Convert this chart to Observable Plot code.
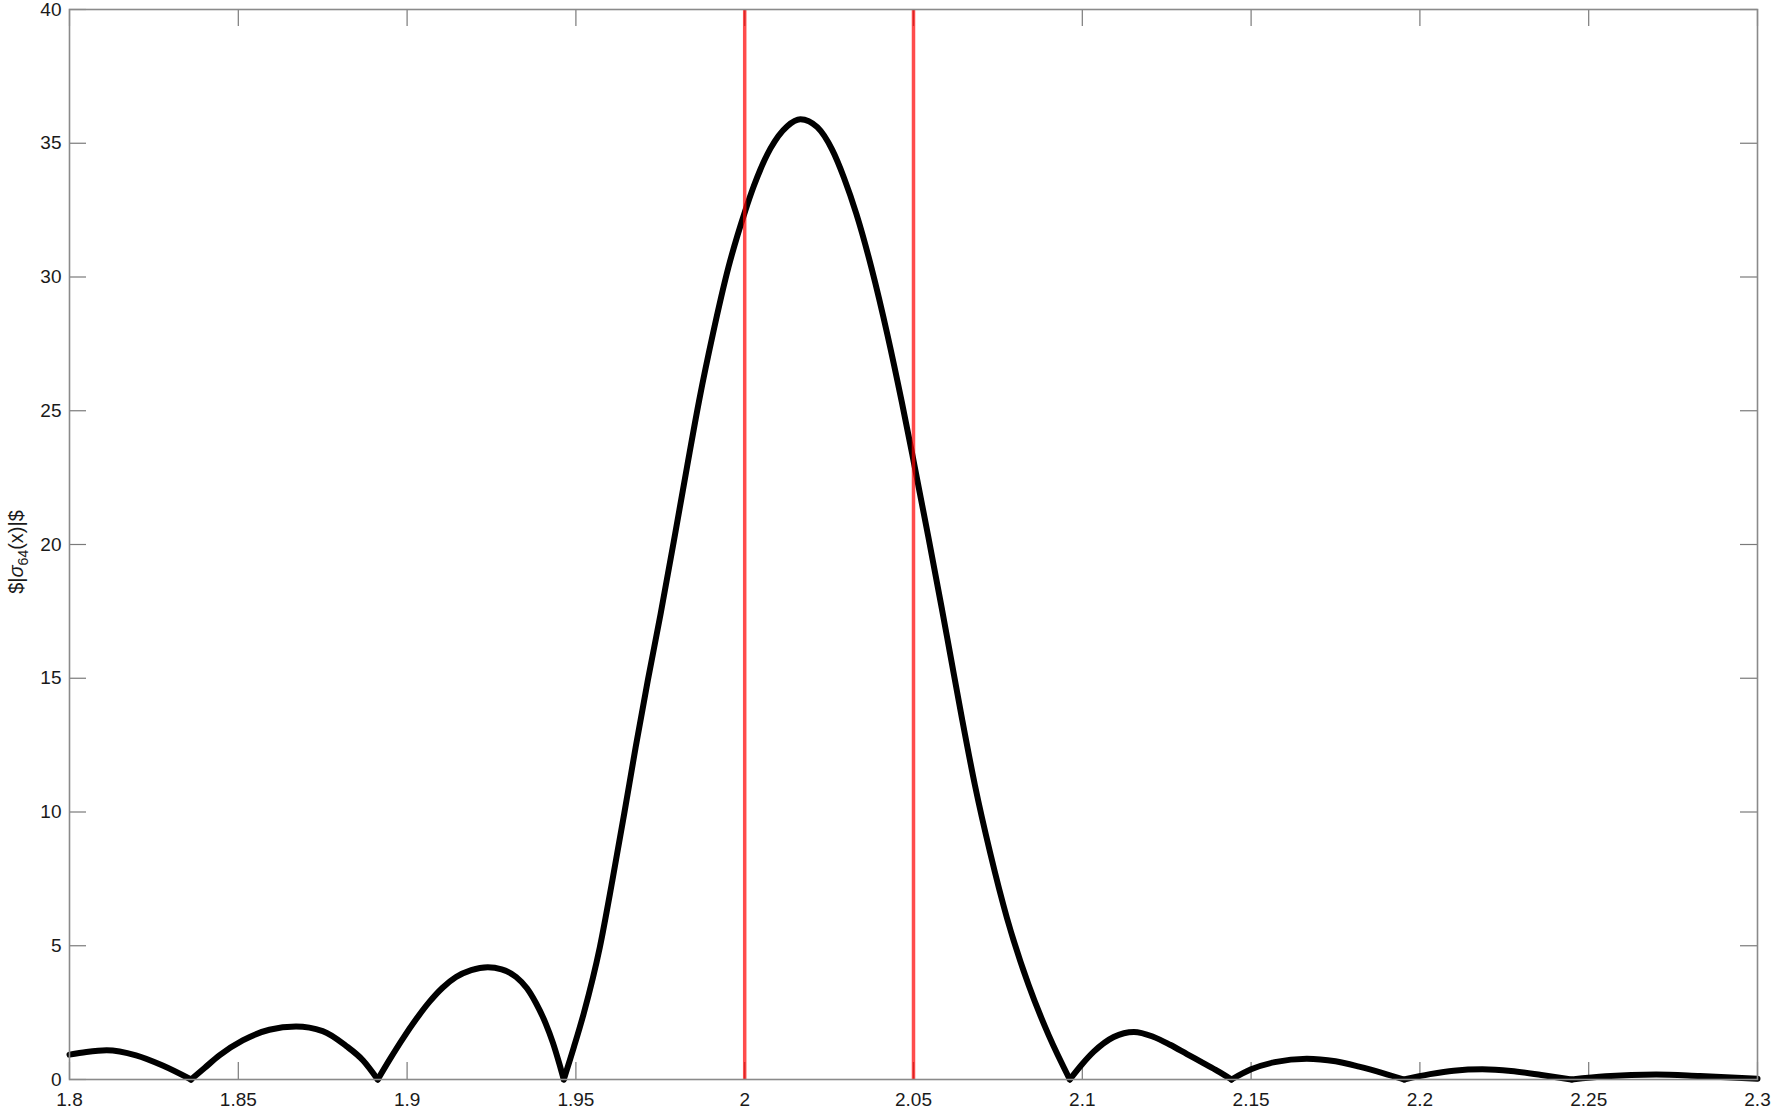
<!DOCTYPE html>
<html>
<head>
<meta charset="utf-8">
<script src="https://cdn.jsdelivr.net/npm/d3@7"></script>
<script src="https://cdn.jsdelivr.net/npm/@observablehq/plot@0.6"></script>
<style>
  html, body { margin: 0; padding: 0; background: #fff; overflow: hidden; }
  #chart { width: 1774px; height: 1111px; }
</style>
</head>
<body>
<div id="chart"></div>
<script>
// ---- data ----
const curveX = [
  1.8000, 1.8050, 1.8110, 1.8197, 1.8276, 1.8360,
  1.8400, 1.8444, 1.8513, 1.8592, 1.8671, 1.8750, 1.8820, 1.8869, 1.8913,
  1.8950, 1.8987, 1.9026, 1.9066, 1.9105, 1.9145, 1.9190, 1.9239, 1.9280, 1.9323,
  1.9355, 1.9382, 1.9410, 1.9432, 1.9450, 1.9464,
  1.9494, 1.9523, 1.9571, 1.9608, 1.9643, 1.9677, 1.9713, 1.9751, 1.9794, 1.9829,
  1.9865, 1.9906, 1.9952, 2.0001, 2.0027, 2.0076, 2.0126, 2.0165,
  2.0215, 2.0259, 2.0294, 2.0331, 2.0376, 2.0423, 2.0465, 2.0496, 2.0544, 2.0583,
  2.0608, 2.0644, 2.0682, 2.0727, 2.0777, 2.0841, 2.0901, 2.0963,
  2.1000, 2.1034, 2.1093, 2.1153, 2.1210, 2.1260, 2.1310, 2.1360, 2.1400, 2.1442,
  2.1500, 2.1570, 2.1665, 2.1750, 2.1820, 2.1890, 2.1953,
  2.2030, 2.2100, 2.2185, 2.2270, 2.2360, 2.2450,
  2.2550, 2.2700, 2.2830, 2.3000
];
const curveY = [
  0.93, 1.03, 1.09, 0.90, 0.52, 0,
  0.43, 0.90, 1.46, 1.86, 1.98, 1.81, 1.25, 0.72, 0,
  0.78, 1.52, 2.24, 2.90, 3.43, 3.83, 4.09, 4.20, 4.12, 3.83,
  3.41, 2.85, 2.11, 1.37, 0.63, 0,
  1.21, 2.46, 4.95, 7.44, 9.93, 12.42, 14.92, 17.41, 20.40, 22.89,
  25.38, 27.88, 30.37, 32.45, 33.40, 34.80, 35.64, 35.90,
  35.60, 34.76, 33.71, 32.35, 30.32, 27.83, 25.35, 23.40, 20.28, 17.67,
  15.95, 13.47, 11.00, 8.48, 6.03, 3.53, 1.64, 0,
  0.58, 1.04, 1.59, 1.78, 1.60, 1.30, 0.95, 0.60, 0.32, 0,
  0.38, 0.65, 0.78, 0.68, 0.48, 0.24, 0,
  0.20, 0.33, 0.38, 0.32, 0.17, 0,
  0.12, 0.19, 0.13, 0.03
];
const redLines = [2.0, 2.05];
const xTicks = [1.8, 1.85, 1.9, 1.95, 2, 2.05, 2.1, 2.15, 2.2, 2.25, 2.3];
const yTicks = [0, 5, 10, 15, 20, 25, 30, 35, 40];
const xDomain = [1.8, 2.3];
const yDomain = [0, 40];

// split the curve into lobes at its zeros (zero points shared by neighbours)
const points = [];
let lobe = 0;
curveX.forEach((x, i) => {
  const y = curveY[i];
  points.push({x, y, lobe});
  if (y === 0 && i > 0 && i < curveX.length - 1) {
    lobe += 1;
    points.push({x, y, lobe});
  }
});

const W = 1774, H = 1111;
const mL = 69, mR = 17, mT = 9, mB = 32;
const plotW = W - mL - mR, plotH = H - mT - mB;
const tickLen = 17;
const font = "'Liberation Sans', Arial, Helvetica, sans-serif";
const tickColor = "#7a7a7a";

const svg = Plot.plot({
  width: W,
  height: H,
  marginLeft: mL,
  marginRight: mR,
  marginTop: mT,
  marginBottom: mB,
  style: {fontFamily: font, fontSize: "19px", color: "#1a1a1a", background: "#fff", overflow: "visible"},
  x: {domain: xDomain},
  y: {domain: yDomain},
  marks: [
    Plot.axisX({ticks: xTicks, tickSize: 0, tickPadding: 13, tickFormat: d => String(d), label: null, fontSize: 19}),
    Plot.axisY({ticks: yTicks, tickSize: 0, tickPadding: 8, tickFormat: d => String(d), label: null, fontSize: 19}),
    // inward ticks on all four sides
    Plot.tickX(xTicks, {x: d => d, stroke: tickColor, strokeWidth: 1.2, insetTop: plotH - tickLen}),
    Plot.tickX(xTicks, {x: d => d, stroke: tickColor, strokeWidth: 1.2, insetBottom: plotH - tickLen}),
    Plot.tickY(yTicks, {y: d => d, stroke: tickColor, strokeWidth: 1.2, insetRight: plotW - tickLen}),
    Plot.tickY(yTicks, {y: d => d, stroke: tickColor, strokeWidth: 1.2, insetLeft: plotW - tickLen}),
    Plot.line(points, {x: "x", y: "y", z: "lobe", stroke: "#000", strokeWidth: 6, curve: "monotone-x", strokeLinejoin: "round"}),
    Plot.ruleX(redLines, {x: d => d, stroke: "#ff0000", strokeOpacity: 0.7, strokeWidth: 3.5}),
    Plot.frame({stroke: "#8a8a8a", strokeWidth: 1.6})
  ]
});

// y-axis title with subscript
const t = d3.select(svg).append("text")
  .attr("transform", `translate(23, ${mT + plotH / 2 + 8}) rotate(-90)`)
  .attr("text-anchor", "middle")
  .attr("font-family", font)
  .attr("font-size", 20)
  .attr("fill", "#1a1a1a");
t.append("tspan").text("$|");
t.append("tspan").attr("font-style", "italic").text("σ");
t.append("tspan").attr("font-size", 14).attr("dy", 5).text("64");
t.append("tspan").attr("dy", -5).text("(x)|$");

document.getElementById("chart").appendChild(svg);
</script>
</body>
</html>
